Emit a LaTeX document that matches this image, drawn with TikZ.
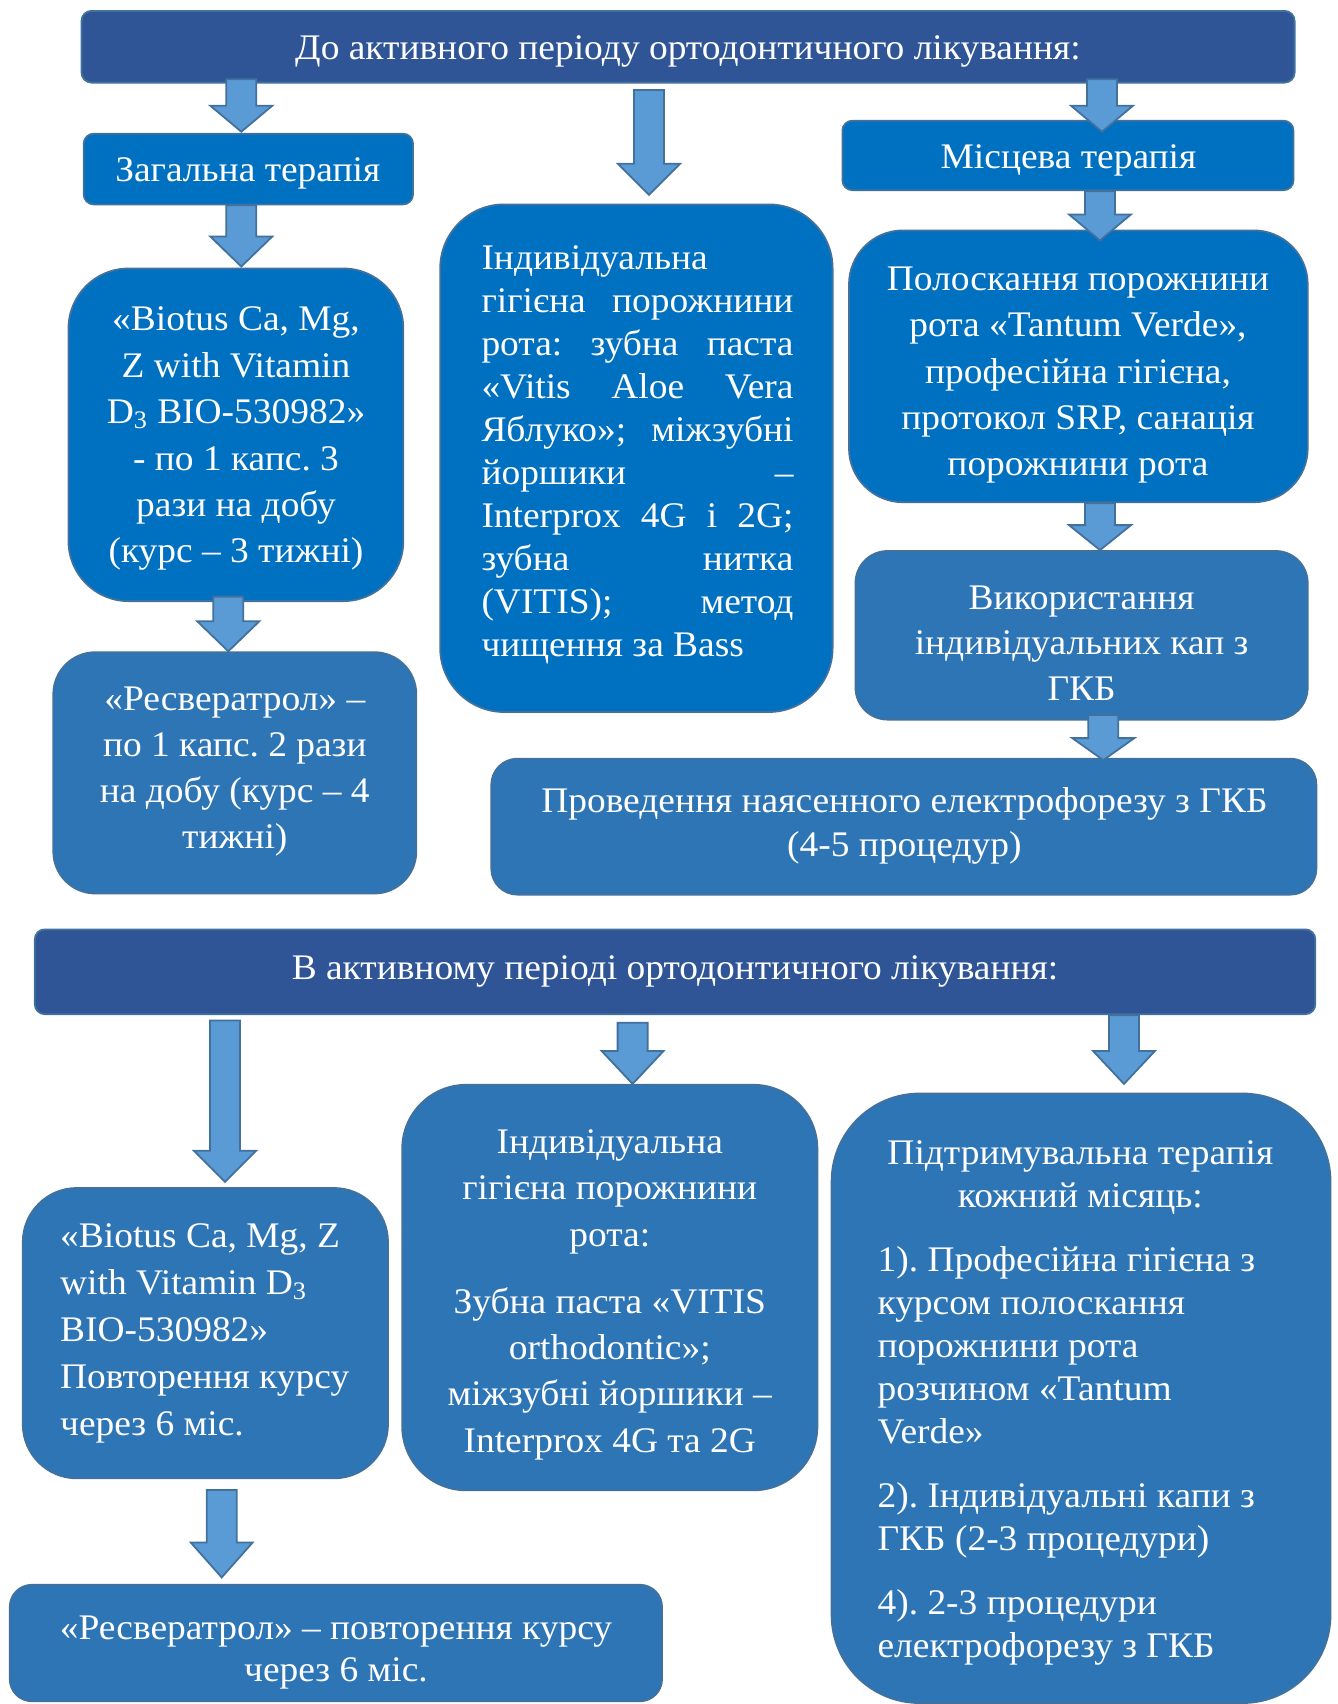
\documentclass[tikz,border=0pt]{standalone}
\usepackage{fontspec}
\setmainfont[FakeStretch=1.04]{Liberation Serif}
\usetikzlibrary{calc}
\frenchspacing
\definecolor{hdr}{HTML}{2F5597}
\definecolor{bA}{HTML}{0070C0}
\definecolor{bB}{HTML}{2E75B6}
\definecolor{edge}{HTML}{41719C}
\definecolor{arr}{HTML}{5B9BD5}
\tikzset{
  bx/.style n args={4}{rectangle, draw=edge, line width=0.9pt, inner sep=0pt,
    at={({(#1+#3)/2},{(#2+#4)/2})},
    minimum width={(#3-#1)*0.5pt}, minimum height={(#4-#2)*0.5pt}},
  txt/.style={text=white, inner sep=0pt, font=\fontsize{18}{23.2}\selectfont},
  blockarrow/.style={fill=arr, draw=edge, line width=0.9pt, line join=miter},
}
\newcommand\jl[1]{\makebox[156pt][s]{#1}}
\newcommand\blockarr[6]{%
  \path (#3,0) coordinate (tmpx);
  \draw[blockarrow] let \p1=($(#1.south -| tmpx)+(0,#4)$), \p2=($(#2.north -| tmpx)+(0,#5)$) in
   (\x1-7.5pt,\y1) -- (\x1+7.5pt,\y1) -- ({\x1+7.5pt},{\y2+#6*0.5pt}) -- ({\x1+15.5pt},{\y2+#6*0.5pt})
   -- (\x1,\y2) -- ({\x1-15.5pt},{\y2+#6*0.5pt}) -- ({\x1-7.5pt},{\y2+#6*0.5pt}) -- cycle;}
\begin{document}
\begin{tikzpicture}[x=0.5pt,y=-0.5pt]
\useasboundingbox (0,0) rectangle (1338,1704);
\fill[white] (0,0) rectangle (1338,1704);
% boxes
\node[bx={81.5}{10.9}{1294.6}{82.6}, fill=hdr, rounded corners=5pt] (h1) {};
\node[bx={83.7}{133.7}{413}{204.4}, fill=bA, rounded corners=5pt] (zag) {};
\node[bx={842.4}{120.7}{1293.5}{190.2}, fill=bA, rounded corners=5pt] (mis) {};
\node[bx={68.5}{268.5}{403.3}{601.1}, fill=bA, rounded corners=30pt] (bio1) {};
\node[bx={440.2}{204.4}{832.6}{712}, fill=bA, rounded corners=32pt] (ind1) {};
\node[bx={849}{230.4}{1307.7}{502.2}, fill=bA, rounded corners=27pt] (tant) {};
\node[bx={53.3}{652.2}{416.3}{893.5}, fill=bB, rounded corners=21pt] (res1) {};
\node[bx={855.5}{551}{1307.7}{719.6}, fill=bB, rounded corners=16pt] (vyk) {};
\node[bx={491.3}{758.7}{1316.4}{894.6}, fill=bB, rounded corners=13pt] (prov) {};
\node[bx={34.8}{929.4}{1315.3}{1014.2}, fill=hdr, rounded corners=5pt] (h2) {};
\node[bx={22.8}{1188}{388}{1478.3}, fill=bB, rounded corners=27pt] (bio2) {};
\node[bx={402.2}{1084.8}{817.4}{1490.3}, fill=bB, rounded corners=32pt] (ind2) {};
\node[bx={9.8}{1584.8}{662}{1701.2}, fill=bB, rounded corners=11pt] (res2) {};
\node[bx={831.6}{1093.5}{1330.5}{1703}, fill=bB, rounded corners=44pt] (pid) {};
% texts
\node[txt] (h1t) at (688,51.8) {До активного періоду ортодонтичного лікування:};
\node[txt] (zagt) at (247.8,173.6) {Загальна терапія};
\node[txt] (mist) at (1068.5,160.5) {Місцева терапія};
\node[txt, align=center] (bio1t) at (236,438.8) {«Biotus Ca, Mg,\\Z with Vitamin\\D\textsubscript{3} BIO-530982»\\- по 1 капс. 3\\рази на добу\\(курс – 3 тижні)};
\node[txt, align=left, font=\fontsize{18}{21.5}\selectfont] (ind1t) at (637.5,454.6) {Індивідуальна\\\jl{гігієна порожнини}\\\jl{рота: зубна паста}\\\jl{«Vitis Aloe Vera}\\\jl{Яблуко»; міжзубні}\\\jl{йоршики –}\\\jl{Interprox 4G і 2G;}\\\jl{зубна нитка}\\\jl{(VITIS); метод}\\чищення за Bass};
\node[txt, align=center] (tantt) at (1078,375.2) {Полоскання порожнини\\рота «Tantum Verde»,\\професійна гігієна,\\протокол SRP, санація\\порожнини рота};
\node[txt, align=center, font=\fontsize{18}{23}\selectfont] (res1t) at (234.8,772) {«Ресвератрол» –\\по 1 капс. 2 рази\\на добу (курс – 4\\тижні)};
\node[txt, align=center, font=\fontsize{18}{22.8}\selectfont] (vykt) at (1081.6,643) {Використання\\індивідуальних кап з\\ГКБ};
\node[txt, align=center, font=\fontsize{18}{21.7}\selectfont] (provt) at (904.4,825.8) {Проведення наясенного електрофорезу з ГКБ\\(4-5 процедур)};
\node[txt] (h2t) at (675,971.4) {В активному періоді ортодонтичного лікування:};
\node[txt, align=left, anchor=west, font=\fontsize{18}{23.4}\selectfont] (bio2t) at (59.8,1333.4) {«Biotus Ca, Mg, Z\\with Vitamin D\textsubscript{3}\\BIO-530982»\\Повторення курсу\\через 6 міс.};
\node[txt, align=center, font=\fontsize{18}{23.1}\selectfont] (ind2t) at (609.8,1294.8) {Індивідуальна\\гігієна порожнини\\рота:\\[10.6pt]Зубна паста «VITIS\\orthodontic»;\\міжзубні йоршики –\\Interprox 4G та 2G};
\node[txt, align=center, font=\fontsize{18}{21.2}\selectfont] (res2t) at (336,1652.4) {«Ресвератрол» – повторення курсу\\через 6 міс.};
\node[txt, align=left, anchor=west, font=\fontsize{18}{21.4}\selectfont] (pidt) at (877.2,1403) {\makebox[202.8pt][c]{Підтримувальна терапія}\\\makebox[202.8pt][c]{кожний місяць:}\\[10.7pt]1). Професійна гігієна з\\курсом полоскання\\порожнини рота\\розчином «Tantum\\Verde»\\[10.7pt]2). Індивідуальні капи з\\ГКБ (2-3 процедури)\\[10.7pt]4). 2-3 процедури\\електрофорезу з ГКБ};
% arrows
\blockarr{h1}{zag}{241.3}{-4.3}{-1.1}{26}
\blockarr{h1}{ind1}{649}{6.4}{-8.7}{31}
\blockarr{h1}{mis}{1102}{-4.3}{11.9}{26}
\blockarr{zag}{bio1}{241.3}{0}{-1.1}{30}
\blockarr{mis}{tant}{1100}{0}{10.9}{26}
\blockarr{bio1}{res1}{228.3}{-5.4}{0}{30}
\blockarr{tant}{vyk}{1100}{0}{0}{25}
\blockarr{vyk}{prov}{1103.3}{-5.6}{2.3}{22}
\blockarr{h2}{bio2}{225}{5.4}{-5.3}{31}
\blockarr{h2}{ind2}{632.6}{7.6}{0}{33}
\blockarr{h2}{pid}{1124}{0}{-8.7}{33}
\blockarr{bio2}{res2}{221.7}{10.7}{-6.5}{35}
\end{tikzpicture}
\end{document}
